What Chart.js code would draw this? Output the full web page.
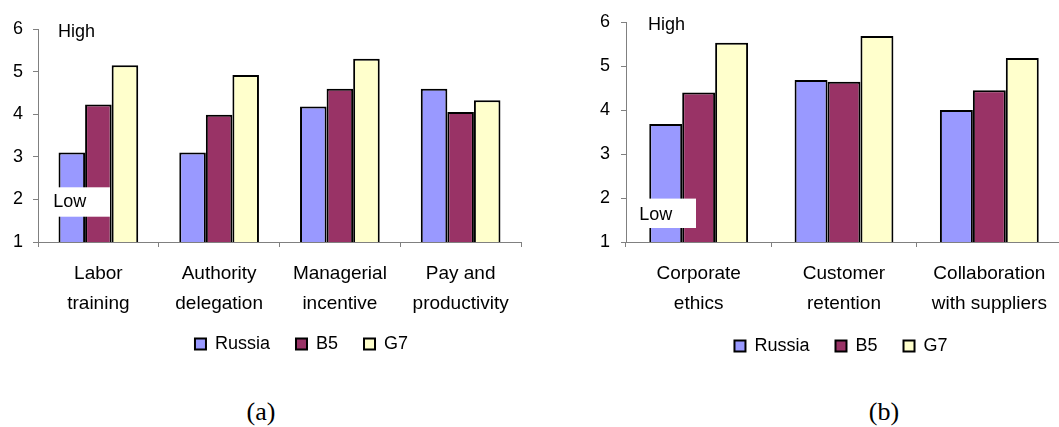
<!DOCTYPE html>
<html>
<head>
<meta charset="utf-8">
<script src="https://cdn.jsdelivr.net/npm/chart.js@4"></script>
<style>
  html, body { margin:0; padding:0; background:#fff; }
  body { width:1059px; height:427px; overflow:hidden; position:relative; }
  canvas { position:absolute; top:0; }
  .cap { position:absolute; font-family:"Liberation Serif","Times New Roman",serif; font-size:26px; color:#000; transform:translate(-50%,-50%); white-space:nowrap; }
</style>
</head>
<body>
<canvas id="ca" width="603" height="376" style="left:0px;"></canvas>
<canvas id="cb" width="512" height="376" style="left:585px;"></canvas>
<div class="cap" style="left:261px;top:412px;">(a)</div>
<div class="cap" style="left:884px;top:412px;">(b)</div>
<script>
// ---- data ----
const seriesNames = ['Russia', 'B5', 'G7'];
const categoriesA = [['Labor', 'training'], ['Authority', 'delegation'], ['Managerial', 'incentive'], ['Pay and', 'productivity']];
const russiaA = [3.1, 3.1, 4.18, 4.6];
const b5A = [4.23, 3.99, 4.6, 4.05];
const g7A = [5.15, 4.92, 5.3, 4.33];
const categoriesB = [['Corporate', 'ethics'], ['Customer', 'retention'], ['Collaboration', 'with suppliers']];
const russiaB = [3.68, 4.68, 4.0];
const b5B = [4.4, 4.64, 4.45];
const g7B = [5.53, 5.68, 5.18];
const yTickValues = [1, 2, 3, 4, 5, 6];
const highLabel = 'High';
const lowLabel = 'Low';

// ---- styling ----
const FONT = '"Liberation Sans", Arial, sans-serif';
const colors = ['#9999FF', '#993366', '#FFFFCC'];
Chart.defaults.font.family = FONT;
Chart.defaults.color = '#000';
Chart.defaults.animation = false;

const hiLoPlugin = {
  id: 'hilo',
  afterDatasetsDraw(chart, args, opts) {
    const ctx = chart.ctx, a = chart.chartArea;
    ctx.save();
    ctx.font = '18px ' + FONT;
    ctx.fillStyle = '#000';
    ctx.textBaseline = 'middle';
    ctx.textAlign = 'left';
    ctx.fillText(highLabel, a.left + opts.high.x, a.top + opts.high.y);
    const b = opts.lowBox;
    ctx.fillStyle = '#fff';
    ctx.fillRect(a.left + b.x, a.top + b.y, b.w, b.h);
    ctx.fillStyle = '#000';
    ctx.fillText(lowLabel, a.left + opts.low.x, a.top + opts.low.y);
    ctx.restore();
  }
};

const legendShiftPlugin = {
  id: 'legendShift',
  afterLayout(chart, args, opts) {
    const l = chart.legend;
    if (l) { l.top -= opts.dy; l.bottom -= opts.dy; }
  }
};

function makeChart(id, cats, r, b, g, cfg) {
  const data = [r, b, g];
  return new Chart(document.getElementById(id), {
    type: 'bar',
    data: {
      labels: cats,
      datasets: seriesNames.map((n, i) => ({
        label: n,
        data: data[i],
        backgroundColor: colors[i],
        borderColor: '#000',
        borderWidth: 2,
        categoryPercentage: cfg.catPct,
        barPercentage: 1
      }))
    },
    options: {
      responsive: false,
      events: [],
      layout: { padding: { top: cfg.top, left: 0, right: 0, bottom: 0 } },
      plugins: {
        tooltip: { enabled: false },
        legend: {
          position: 'bottom',
          labels: { boxWidth: 11, boxHeight: 11, padding: 26, font: { size: 18, family: FONT }, color: '#000' }
        },
        hilo: cfg.hilo,
        legendShift: { dy: cfg.legendDy }
      },
      scales: {
        x: {
          grid: { display: true, drawOnChartArea: false, drawTicks: true, tickLength: 5, color: '#808080', offset: true },
          border: { display: true, color: '#808080', width: 1 },
          ticks: { font: { size: 19, family: FONT, lineHeight: 1.58 }, color: '#000', padding: 12, maxRotation: 0, autoSkip: false },
          afterFit: s => { s.height = cfg.xH; }
        },
        y: {
          min: 1, max: 6,
          afterBuildTicks: s => { s.ticks = yTickValues.map(v => ({ value: v })); },
          grid: { display: true, drawOnChartArea: false, drawTicks: true, tickLength: 5, color: '#808080' },
          border: { display: true, color: '#808080', width: 1 },
          ticks: { font: { size: 18, family: FONT }, color: '#000', padding: cfg.yPad },
          afterFit: s => { s.width = cfg.yW; }
        },
        yR: {
          position: 'right',
          display: true,
          grid: { display: false },
          border: { display: false },
          ticks: { display: false },
          afterFit: s => { s.width = cfg.rW; }
        }
      }
    },
    plugins: [hiLoPlugin, legendShiftPlugin]
  });
}

makeChart('ca', categoriesA, russiaA, b5A, g7A, {
  catPct: 0.66, top: 29, xH: 80, yW: 38, rW: 82, yPad: 10, legendDy: 13,
  hilo: { high: { x: 20, y: 3 }, lowBox: { x: 10, y: 158.3, w: 62, h: 29.4 }, low: { x: 15.3, y: 172.7 } }
});
makeChart('cb', categoriesB, russiaB, b5B, g7B, {
  catPct: 0.68, top: 22, xH: 80, yW: 41, rW: 35, yPad: 11, legendDy: 11,
  hilo: { high: { x: 22, y: 3.3 }, lowBox: { x: 8, y: 176.6, w: 62, h: 29.4 }, low: { x: 13.3, y: 192.6 } }
});
</script>
</body>
</html>
